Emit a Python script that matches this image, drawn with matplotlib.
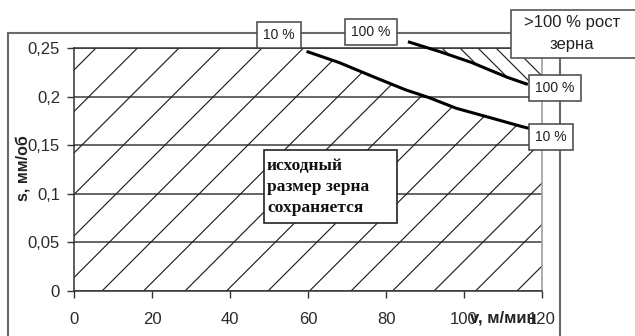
import numpy as np
import matplotlib
matplotlib.use("Agg")
import matplotlib.pyplot as plt
from matplotlib.patches import Polygon, Rectangle
from matplotlib.collections import LineCollection
from matplotlib.lines import Line2D

W, H, DPI = 635, 336, 100

# Boundaries of grain growth: cutting speed v (m/min) vs feed s (mm/rev)
v_10 = [60, 68, 77, 85, 91, 98, 107, 115, 117]
s_10 = [0.246, 0.235, 0.220, 0.207, 0.199, 0.188, 0.178, 0.169, 0.167]
v_100 = [86, 94, 102, 111, 116]
s_100 = [0.256, 0.246, 0.235, 0.220, 0.213]

x_ticks = [0, 20, 40, 60, 80, 100, 120]
y_ticks = [0, 0.05, 0.1, 0.15, 0.2, 0.25]
y_tick_labels = ["0", "0,05", "0,1", "0,15", "0,2", "0,25"]

SANS = "Liberation Sans"
SERIF = "Liberation Serif"

fig = plt.figure(figsize=(W / DPI, H / DPI), dpi=DPI)
fig.patch.set_facecolor("white")


def fx(x):
    return x / W


def fy(y):
    return 1 - y / H


ax_l, ax_r, ax_t, ax_b = 74, 542, 48, 291
ax = fig.add_axes([fx(ax_l), fy(ax_b), (ax_r - ax_l) / W, (ax_b - ax_t) / H])
ax.set_xlim(0, 120)
ax.set_ylim(0, 0.25)

# horizontal grid
ax.set_yticks(y_ticks)
ax.set_yticklabels(y_tick_labels, fontfamily=SANS, fontsize=12)
ax.set_xticks(x_ticks)
ax.set_xticklabels([str(t) for t in x_ticks], fontfamily=SANS, fontsize=12)
ax.grid(axis="y", color="#3a3a3a", lw=1.1)
ax.grid(axis="x", visible=False)
ax.set_axisbelow(True)
ax.tick_params(direction="out", length=5, width=1, color="#333333",
               labelcolor="#2a2a2a")
ax.tick_params(axis="y", pad=5)
ax.tick_params(axis="x", pad=10)
for side in ("left", "bottom", "top"):
    ax.spines[side].set_color("#333333")
    ax.spines[side].set_linewidth(1.1)
ax.spines["right"].set_color("#a0a0a0")
ax.spines["right"].set_linewidth(1.2)

pw, ph = ax_r - ax_l, ax_b - ax_t

# "/" hatching below the 10 % curve
low_poly = Polygon([(0, 0), (0, 0.25), (v_10[0], 0.25)]
                   + list(zip(v_10, s_10))
                   + [(120, s_10[-1]), (120, 0)],
                   closed=True, transform=ax.transData,
                   facecolor="none", edgecolor="none")
ax.add_patch(low_poly)
segs = []
for x0 in np.arange(28 - 41.5 * 8, pw + 10, 41.5):
    segs.append([(x0 / pw, 0), ((x0 + 320) / pw, 320 / ph)])
lc = LineCollection(segs, colors="#222222", linewidths=0.85,
                    transform=ax.transAxes, zorder=1.5)
lc.set_clip_path(low_poly)
ax.add_collection(lc)

# "\" hatching above the 100 % curve
up_poly = Polygon([(v_100[0], 0.25)] + list(zip(v_100, s_100))
                  + [(120, s_100[-1]), (120, 0.25)],
                  closed=True, transform=ax.transData,
                  facecolor="none", edgecolor="none")
ax.add_patch(up_poly)
segs2 = []
for x0 in np.arange(368 - 18 * 6, pw + 40, 18):
    segs2.append([(x0 / pw, 1), ((x0 + 120) / pw, (ph - 120) / ph)])
lc2 = LineCollection(segs2, colors="#222222", linewidths=0.85,
                     transform=ax.transAxes, zorder=1.5)
lc2.set_clip_path(up_poly)
ax.add_collection(lc2)

# boundary curves
ax.plot(v_10, s_10, color="black", lw=2.2, clip_on=False, zorder=3)
ax.plot(v_100, s_100, color="black", lw=2.2, clip_on=False, zorder=3)

# axis titles
fig.text(fx(23), fy(168), "s, мм/об", rotation=90, ha="center", va="center",
         fontfamily=SANS, fontweight="bold", fontsize=11.5, color="#222222")
fig.text(fx(503), fy(318), "v, м/мин", ha="center", va="center",
         fontfamily=SANS, fontweight="bold", fontsize=12, color="#222222")

# outer chart frame
frame_kw = dict(color="#6a6a6a", lw=1.5, transform=fig.transFigure)
fig.add_artist(Line2D([fx(8), fx(8)], [fy(33), fy(340)], **frame_kw))
fig.add_artist(Line2D([fx(8), fx(511)], [fy(33), fy(33)], **frame_kw))
fig.add_artist(Line2D([fx(560), fx(560)], [fy(58), fy(340)], **frame_kw))
fig.add_artist(Line2D([fx(542), fx(542)], [fy(48), fy(58)],
                      color="#a0a0a0", lw=1.2, transform=fig.transFigure))

# region captions
fig.add_artist(Rectangle((fx(511), fy(58)), fx(640) - fx(511), fy(10) - fy(58),
                         transform=fig.transFigure, facecolor="white",
                         edgecolor="#555555", lw=1.2, zorder=2))
fig.text(fx(572), fy(23), ">100 % рост", ha="center", va="center",
         fontfamily=SANS, fontsize=12, color="#222222", zorder=3)
fig.text(fx(572), fy(44), "зерна", ha="center", va="center",
         fontfamily=SANS, fontsize=12, color="#222222", zorder=3)

fig.add_artist(Rectangle((fx(264), fy(223)), fx(397) - fx(264), fy(150) - fy(223),
                         transform=fig.transFigure, facecolor="white",
                         edgecolor="#222222", lw=1.2, zorder=2))
fig.text(fx(267), fy(187), "исходный\nразмер зерна\nсохраняется",
         ha="left", va="center", linespacing=1.45,
         fontfamily=SERIF, fontweight="bold", fontsize=12.5, color="#111111",
         zorder=3)

# curve labels
box = dict(boxstyle="square,pad=0.45", facecolor="white", edgecolor="#444444",
           lw=1.1)
for (x, y, s) in [(279, 35, "10 %"), (371, 32, "100 %"),
                  (555, 88, "100 %"), (551, 137, "10 %")]:
    fig.text(fx(x), fy(y), s, ha="center", va="center", fontfamily=SANS,
             fontsize=10, color="#222222", bbox=box, zorder=4)

fig.savefig("out.png", dpi=DPI)
